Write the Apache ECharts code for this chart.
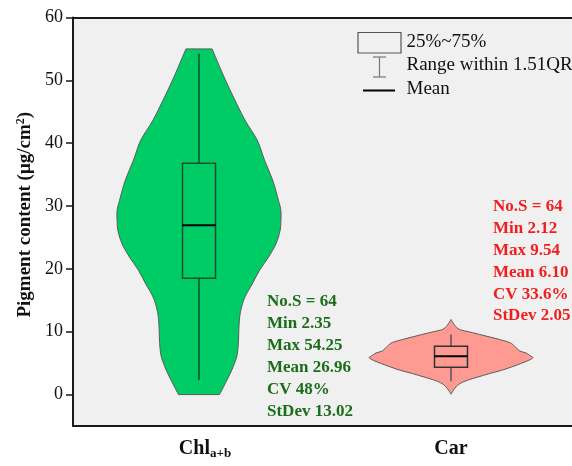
<!DOCTYPE html>
<html>
<head>
<meta charset="utf-8">
<script src="https://cdn.jsdelivr.net/npm/echarts@6/dist/echarts.min.js"></script>
<style>
  html, body { margin: 0; padding: 0; background: #ffffff; }
  #chart { width: 572px; height: 466px; }
</style>
</head>
<body>
<div id="chart"></div>
<script>
// Pigment groups and their subscripts
const categories = ['Chl', 'Car'];
const subscripts = ['a+b', ''];

// Violin outlines: value levels and relative kernel density (1 = widest point)
const chlLevels  = [0, 1.75, 3.9, 6.0, 8.1, 11.3, 13.4, 15.5, 17.6, 19.8, 21.9, 24.0, 26.1, 27.7, 29.3, 30.9, 34.1, 37.3, 40.5, 43.7, 47.9, 51.0, 55.0];
const chlDensity = [0.25, 0.32, 0.40, 0.46, 0.48, 0.49, 0.51, 0.56, 0.65, 0.74, 0.85, 0.94, 0.99, 1.0, 1.0, 0.97, 0.90, 0.80, 0.71, 0.56, 0.40, 0.29, 0.16];
const carLevels  = [0.05, 0.6, 1.2, 1.75, 2.28, 2.8, 3.34, 3.87, 4.4, 4.93, 5.46, 5.85, 6.1, 6.62, 6.94, 7.69, 8.28, 8.91, 9.44, 9.96, 10.35, 11.03, 11.95];
const carDensity = [0, 0.025, 0.06, 0.11, 0.20, 0.33, 0.47, 0.62, 0.74, 0.85, 0.95, 1.0, 0.976, 0.915, 0.838, 0.777, 0.716, 0.549, 0.39, 0.228, 0.106, 0.045, 0];

// Box statistics per group
const q1s   = [18.5, 4.35];
const q3s   = [36.8, 7.7];
const means = [26.96, 6.10];
const mins  = [2.35, 2.12];
const maxs  = [54.25, 9.54];
const sampleCounts = [64, 64];
const cvs    = ['48%', '33.6%'];
const stdevs = [13.02, 2.05];

// Y-axis tick values
const yTicks = [0, 10, 20, 30, 40, 50, 60];

const SERIF = "'Liberation Serif', 'Times New Roman', serif";
const violinFill = ['#00cc66', '#ff9a92'];
const boxStroke = ['#1f4d2e', '#333333'];
const whiskerStroke = ['#111111', '#555555'];
const statColors = ['#1a6e1a', '#f01e1e'];

const profiles = [
  { levels: chlLevels, density: chlDensity },
  { levels: carLevels, density: carDensity }
];

// Cubic Bezier segments through a list of points (Catmull-Rom tangents)
function curveThrough(pts) {
  let d = '';
  for (let i = 0; i < pts.length - 1; i++) {
    const p0 = pts[Math.max(i - 1, 0)], p1 = pts[i], p2 = pts[i + 1], p3 = pts[Math.min(i + 2, pts.length - 1)];
    const c1 = [p1[0] + (p2[0] - p0[0]) / 6, p1[1] + (p2[1] - p0[1]) / 6];
    const c2 = [p2[0] - (p3[0] - p1[0]) / 6, p2[1] - (p3[1] - p1[1]) / 6];
    d += ' C' + c1[0].toFixed(2) + ',' + c1[1].toFixed(2) + ' ' + c2[0].toFixed(2) + ',' + c2[1].toFixed(2) + ' ' + p2[0].toFixed(2) + ',' + p2[1].toFixed(2);
  }
  return d;
}

// Mirrored density outline around the category centre; flat ends stay straight
function renderViolin(params, api) {
  const idx = api.value(0);
  const prof = profiles[idx];
  const band = api.size([1, 0])[0];
  const maxHalf = band * 0.325;
  const cx = api.coord([idx, 0])[0];
  const left = [], right = [];
  prof.levels.forEach(function (v, i) {
    const y = api.coord([idx, v])[1];
    const h = prof.density[i] * maxHalf;
    left.push([cx - h, y]);
    right.push([cx + h, y]);
  });
  right.reverse();
  const d = 'M' + left[0][0].toFixed(2) + ',' + left[0][1].toFixed(2) + curveThrough(left) +
    ' L' + right[0][0].toFixed(2) + ',' + right[0][1].toFixed(2) + curveThrough(right) + ' Z';
  return {
    type: 'path',
    shape: { pathData: d },
    style: { fill: violinFill[idx], stroke: '#5a5a5a', lineWidth: 1 }
  };
}

function renderBox(params, api) {
  const idx = api.value(0);
  const band = api.size([1, 0])[0];
  const half = band * 0.0655;
  const cx = api.coord([idx, 0])[0];
  const yq1 = api.coord([idx, q1s[idx]])[1];
  const yq3 = api.coord([idx, q3s[idx]])[1];
  const ym = api.coord([idx, means[idx]])[1];
  const ymin = api.coord([idx, mins[idx]])[1];
  const ymax = api.coord([idx, maxs[idx]])[1];
  const wStyle = { stroke: whiskerStroke[idx], lineWidth: idx === 0 ? 1 : 1.5 };
  return {
    type: 'group',
    children: [
      { type: 'line', shape: { x1: cx, y1: ymin, x2: cx, y2: yq1 }, style: wStyle },
      { type: 'line', shape: { x1: cx, y1: yq3, x2: cx, y2: ymax }, style: wStyle },
      { type: 'rect', shape: { x: cx - half, y: yq3, width: half * 2, height: yq1 - yq3 },
        style: { fill: 'none', stroke: boxStroke[idx], lineWidth: 1.5 } },
      { type: 'line', shape: { x1: cx - half, y1: ym, x2: cx + half, y2: ym },
        style: { stroke: '#000000', lineWidth: 2 } }
    ]
  };
}

function statLines(i) {
  return [
    'No.S = ' + sampleCounts[i],
    'Min ' + mins[i].toFixed(2),
    'Max ' + maxs[i].toFixed(2),
    'Mean ' + means[i].toFixed(2),
    'CV ' + cvs[i],
    'StDev ' + stdevs[i].toFixed(2)
  ];
}

const graphics = [];
// Statistics blocks
[[0, 267, 302.7, 22.0], [1, 493, 208.5, 21.8]].forEach(function (cfg) {
  statLines(cfg[0]).forEach(function (txt, k) {
    graphics.push({
      type: 'text', left: cfg[1], top: cfg[2] + k * cfg[3] - 10,
      style: { text: txt, font: 'bold 17px ' + SERIF, fill: statColors[cfg[0]] },
      z: 10
    });
  });
});
// Legend keys
graphics.push(
  { type: 'rect', shape: { x: 358, y: 32.5, width: 43, height: 20.5 },
    style: { fill: 'none', stroke: '#555555', lineWidth: 1.2 }, z: 10 },
  { type: 'line', shape: { x1: 379.5, y1: 57, x2: 379.5, y2: 77 }, style: { stroke: '#777777', lineWidth: 1.2 }, z: 10 },
  { type: 'line', shape: { x1: 373, y1: 57, x2: 386, y2: 57 }, style: { stroke: '#777777', lineWidth: 1.2 }, z: 10 },
  { type: 'line', shape: { x1: 373, y1: 77, x2: 386, y2: 77 }, style: { stroke: '#777777', lineWidth: 1.2 }, z: 10 },
  { type: 'line', shape: { x1: 363, y1: 90.5, x2: 395, y2: 90.5 }, style: { stroke: '#000000', lineWidth: 2 }, z: 10 }
);
[['25%~75%', 43.5], ['Range within 1.51QR', 67], ['Mean', 90.5]].forEach(function (it) {
  graphics.push({
    type: 'text', left: 406.5, top: it[1] - 11,
    style: { text: it[0], font: '19px ' + SERIF, fill: '#111111' }, z: 10
  });
});

const chart = echarts.init(document.getElementById('chart'), null, { renderer: 'canvas' });
chart.setOption({
  backgroundColor: '#ffffff',
  animation: false,
  grid: {
    left: 73, width: 504, top: 17.5, height: 408.5,
    outerBoundsMode: 'none', containLabel: false,
    show: true, backgroundColor: '#f0f0f0', borderWidth: 0
  },
  xAxis: [
    {
      type: 'category', data: categories, position: 'bottom',
      axisLine: { onZero: false, lineStyle: { color: '#1a1a1a', width: 2 } },
      axisTick: { alignWithLabel: true, length: 6, lineStyle: { color: '#1a1a1a', width: 1.5 } },
      axisLabel: {
        margin: 11,
        formatter: function (v, i) {
          return subscripts[i] ? '{p|}{m|' + v + '}{s|' + subscripts[i] + '}' : '{m|' + v + '}';
        },
        rich: {
          p: { width: 12 },
          m: { fontFamily: SERIF, fontWeight: 'bold', fontSize: 20, color: '#111111', lineHeight: 24 },
          s: { fontFamily: SERIF, fontWeight: 'bold', fontSize: 13, color: '#111111', lineHeight: 24, padding: [9, 0, 0, 0] }
        }
      },
      splitLine: { show: false }
    },
    {
      type: 'category', data: categories, position: 'top',
      axisLine: { onZero: false, lineStyle: { color: '#1a1a1a', width: 2 } },
      axisTick: { show: false }, axisLabel: { show: false }, splitLine: { show: false }
    }
  ],
  yAxis: {
    type: 'value', min: -5, max: 60,
    name: '{b|Pigment content (μg/cm}{sup|2}{b|)}',
    nameLocation: 'middle', nameGap: 37,
    nameTextStyle: {
      padding: [0, 0, 0, 14],
      rich: {
        b: { fontFamily: SERIF, fontWeight: 'bold', fontSize: 19, color: '#111111' },
        sup: { fontFamily: SERIF, fontWeight: 'bold', fontSize: 12, color: '#111111', padding: [0, 0, 8, 0] }
      }
    },
    axisLine: { show: true, lineStyle: { color: '#1a1a1a', width: 2 } },
    axisTick: { show: true, length: 7, customValues: yTicks, lineStyle: { color: '#1a1a1a', width: 1.5 } },
    axisLabel: { customValues: yTicks, fontFamily: SERIF, fontSize: 18, color: '#111111', margin: 10 },
    splitLine: { show: false }
  },
  series: [
    { type: 'custom', renderItem: renderViolin, data: [[0], [1]], z: 2, silent: true },
    { type: 'custom', renderItem: renderBox, data: [[0], [1]], z: 3, silent: true }
  ],
  graphic: graphics
});
</script>
</body>
</html>
